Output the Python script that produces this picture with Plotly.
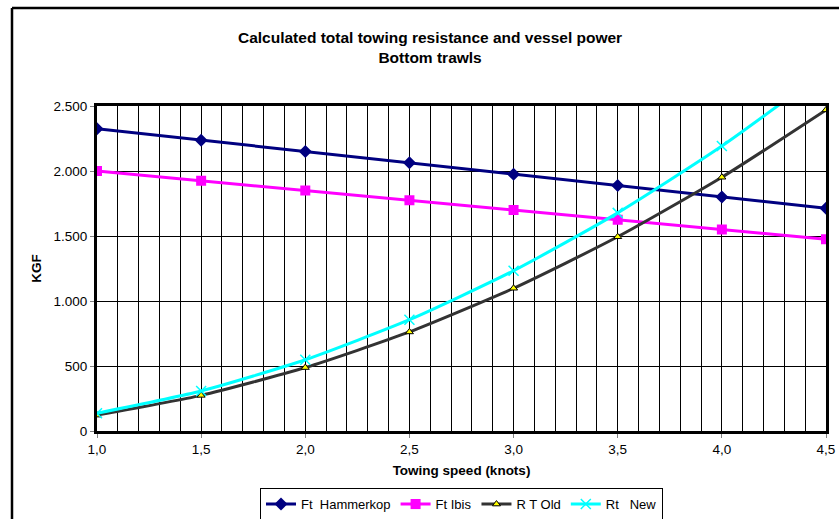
import plotly.graph_objects as go

speed = [1.0, 1.5, 2.0, 2.5, 3.0, 3.5, 4.0, 4.5]
ft_hammerkop = [2325, 2237, 2150, 2063, 1975, 1888, 1800, 1713]
ft_ibis = [2000, 1925, 1850, 1775, 1700, 1625, 1550, 1475]
rt_old = [122, 274, 488, 762, 1098, 1494, 1952, 2470]
rt_new = [137, 308, 548, 856, 1233, 1678, 2192, 2774]

names = ["Ft\u00a0\u00a0Hammerkop", "Ft Ibis", "R T Old", "Rt\u00a0\u00a0\u00a0New"]

FONT = "Liberation Sans, Arial, sans-serif"
TS = 13.5

fig = go.Figure()
fig.add_trace(go.Scatter(
    x=speed, y=ft_hammerkop, name=names[0], mode="lines+markers",
    line=dict(color="#000080", width=3),
    marker=dict(symbol="diamond", size=10, color="#000080")))
fig.add_trace(go.Scatter(
    x=speed, y=ft_ibis, name=names[1], mode="lines+markers",
    line=dict(color="#FF00FF", width=3),
    marker=dict(symbol="square", size=10, color="#FF00FF")))
fig.add_trace(go.Scatter(
    x=speed, y=rt_old, name=names[2], mode="lines+markers",
    line=dict(color="#333333", width=3, shape="spline", smoothing=0.6),
    marker=dict(symbol="triangle-up", size=7, color="#FFFF00",
                line=dict(color="#000000", width=1))))
fig.add_trace(go.Scatter(
    x=speed, y=rt_new, name=names[3], mode="lines+markers",
    line=dict(color="#00FFFF", width=3, shape="spline", smoothing=0.6),
    marker=dict(symbol="x-thin", size=10, color="#00FFFF",
                line=dict(color="#00FFFF", width=1.5))))

fig.update_layout(
    width=840, height=519,
    margin=dict(l=97, r=14, t=106, b=88, autoexpand=False),
    paper_bgcolor="white", plot_bgcolor="white",
    separators=",.",
    font=dict(family=FONT, size=TS, color="#000000"),
    title=dict(
        text="Calculated total towing resistance and vessel power<br>Bottom trawls",
        x=0.512, xanchor="center", y=0.917, yanchor="middle",
        font=dict(family=FONT, size=15.5, color="#000000", weight="bold")),
    showlegend=True,
    legend=dict(
        orientation="h", x=0.5, xanchor="center", y=-0.225, yanchor="middle",
        bordercolor="#000000", borderwidth=1, bgcolor="white",
        font=dict(family=FONT, size=13, color="#000000"),
        itemwidth=30, tracegroupgap=0),
    xaxis=dict(
        range=[1.0, 4.5], dtick=0.5, tick0=1.0, tickformat=".1f",
        automargin=False,
        showgrid=True, gridcolor="#000000", gridwidth=1,
        minor=dict(dtick=0.1, showgrid=True, gridcolor="#000000", gridwidth=1),
        showline=True, linecolor="#000000", linewidth=3, mirror=True,
        ticks="outside", ticklen=4, tickcolor="#808080",
        tickfont=dict(family=FONT, size=TS, color="#000000"),
        zeroline=False,
        title=dict(text="Towing speed (knots)", standoff=10,
                   font=dict(family=FONT, size=TS, color="#000000", weight="bold"))),
    yaxis=dict(
        range=[0, 2500], dtick=500, tickformat=",.0f",
        automargin=False,
        showgrid=True, gridcolor="#000000", gridwidth=1,
        showline=True, linecolor="#000000", linewidth=3, mirror=True,
        ticks="outside", ticklen=4, tickcolor="#808080",
        tickfont=dict(family=FONT, size=TS, color="#000000"),
        zeroline=False,
        title=dict(text="KGF", standoff=9,
                   font=dict(family=FONT, size=TS, color="#000000", weight="bold"))),
)

# outer chart-area border (left and top edges visible in the frame)
bx0 = (12 - 97) / 729
by1 = (431 - 8) / 325
fig.add_shape(type="line", xref="paper", yref="paper",
              x0=bx0, x1=bx0, y0=(431 - 560) / 325, y1=by1,
              line=dict(color="#000000", width=2.5), layer="below")
fig.add_shape(type="line", xref="paper", yref="paper",
              x0=bx0, x1=(839 - 97) / 729, y0=by1, y1=by1,
              line=dict(color="#000000", width=2.5), layer="below")

fig.write_html("out.html")
